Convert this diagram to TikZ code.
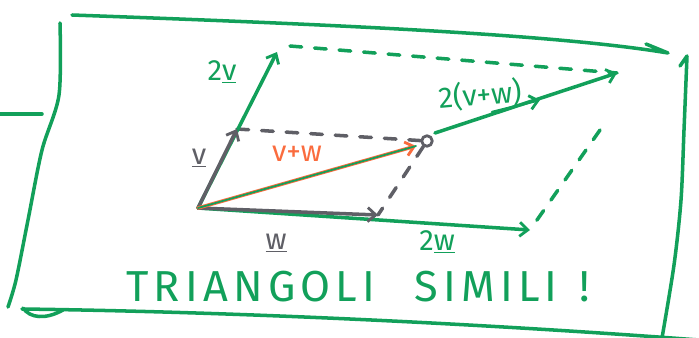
\documentclass[tikz,border=0pt]{standalone}
\usepackage{fontspec}
\setmainfont{Fira Sans}
\newfontfamily\titlefont[LetterSpace=12]{Fira Sans}
\usetikzlibrary{arrows.meta}
\definecolor{mkgreen}{RGB}{18,160,90}
\definecolor{mkgray}{RGB}{95,95,102}
\definecolor{mkorange}{RGB}{250,108,62}
\begin{document}
\begin{tikzpicture}[x=0.03cm,y=-0.03cm,line cap=round,line join=round,
  pen/.style={line width=3pt},
  gpen/.style={pen,draw=mkgreen},
  greypen/.style={pen,draw=mkgray},
  opent/.style={pen,draw=mkorange},
  arr/.style={-{Straight Barb[length=7pt,width=12pt,line width=2.4pt]}},
  handdash/.style={dash pattern=on 10pt off 11pt},
  lbl/.style={inner sep=0pt,font=\fontsize{25}{27}\selectfont},
  title/.style={inner sep=0pt,text=mkgreen,font=\titlefont\fontsize{37}{40}\selectfont}]
\useasboundingbox (0,0) rectangle (699,338);
% frame
\draw[gpen] (72,15) .. controls (350,25) and (560,35) .. (668,53) -- (646,44);
\draw[gpen] plot[smooth] coordinates {(60,23) (59,95) (42,150) (28,220) (16,280) (8,307)};
\draw[gpen] (23,308) .. controls (30,318) and (45,320) .. (63,310);
\draw[gpen] (22,309) .. controls (250,312) and (500,325) .. (699,340);
\draw[gpen] (680,66) -- (687,56) plot[smooth] coordinates {(687,56) (684,130) (681,200) (674,265) (662,338)};
\draw[gpen] (0,114) -- (42,114);
% points
\coordinate (O) at (198,208);
\coordinate (V) at (237,129);
\coordinate (V2) at (277,52);
\coordinate (W) at (378,215);
\coordinate (W2) at (530,230);
\coordinate (S) at (416,146);
\coordinate (S2a) at (435,133);
\coordinate (S2) at (617,73);
\node[circle,draw=mkgray,line width=2.4pt,minimum size=9pt,inner sep=0pt] (C) at (427,141) {};
% dashed parallelograms
\draw[greypen,handdash] (V) -- (C);
\draw[greypen,handdash] (C) -- (W);
\draw[gpen,handdash] (290,46) -- (S2);
\draw[gpen,handdash] (600,130) -- (W2);
% vectors
\draw[gpen,arr] (O) -- (V2);
\draw[greypen,arr] (O) -- (V);
\draw[gpen,arr] (O) -- (W2);
\draw[greypen,arr] (O) -- (W);
\draw[opent,arr] (O) -- (S);
\draw[gpen,line width=1.5pt] (O) -- (S);
\draw[gpen,arr] (S2a) -- (S2);
% labels
\node[lbl,text=mkgreen] (l2v) at (222,72) {2\underline{v}};
\node[lbl,text=mkgray] (lv) at (199,158) {\underline{v}};
\node[lbl,text=mkorange] (lvw) at (297,154) {v+w};
\node[lbl,text=mkgray] (lw) at (276,243) {\underline{w}};
\node[lbl,text=mkgreen] (l2w) at (437,242) {2\underline{w}};
\node[lbl,text=mkgreen,rotate=5] (l2vw) at (480,95) {2(v+w)};
\draw[gpen,arr,line width=2pt] (492,112) -- (540,100);
\node[title] (t) at (358,287) {TRIANGOLI\hspace{0.9em}SIMILI\hspace{0.5em}!};
\end{tikzpicture}
\end{document}
